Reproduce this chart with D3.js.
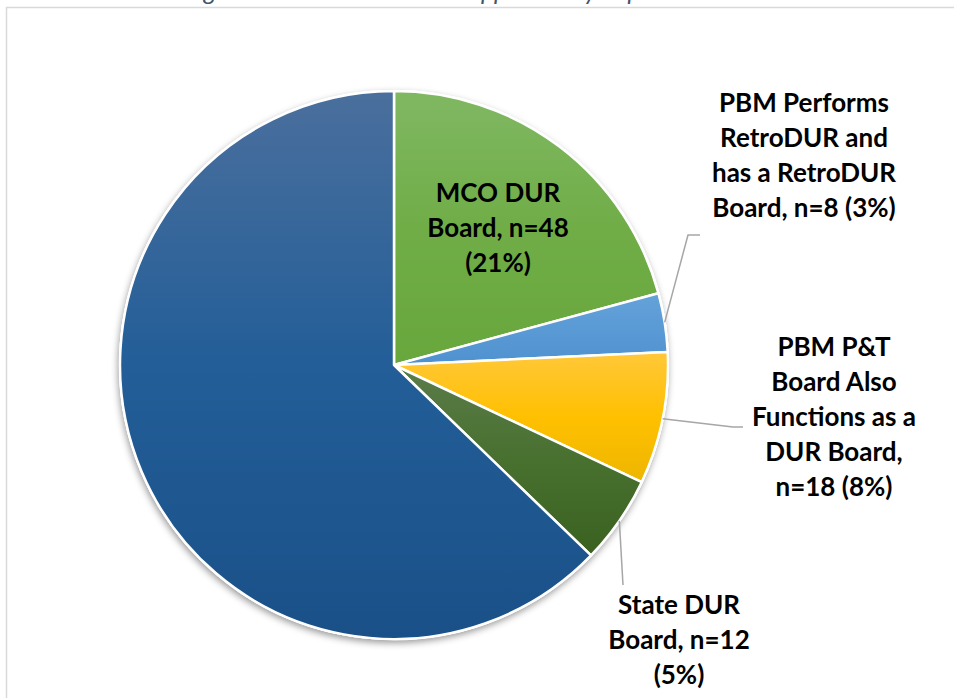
<!DOCTYPE html>
<html>
<head>
<meta charset="utf-8">
<script src="https://cdn.jsdelivr.net/npm/d3@7"></script>
<style>
  body { margin: 0; background: #fff; }
  svg { display: block; }
  .lbl { font-family: Lato, "Open Sans", sans-serif; font-weight: bold; font-size: 26px; fill: #000; }
</style>
</head>
<body>
<script>
var width = 954, height = 698;

// data
var categories = ["MCO DUR Board", "PBM Performs RetroDUR and has a RetroDUR Board",
                  "PBM P&T Board Also Functions as a DUR Board", "State DUR Board", "Other"];
var counts = [48, 8, 18, 12, 145];
var labelLines = [
  ["MCO DUR", "Board, n=48", "(21%)"],
  ["PBM Performs", "RetroDUR and", "has a RetroDUR", "Board, n=8 (3%)"],
  ["PBM P&T", "Board Also", "Functions as a", "DUR Board,", "n=18 (8%)"],
  ["State DUR", "Board, n=12", "(5%)"],
  []
];
var colorsTop = ["#80b863", "#64a2d9", "#ffc83a", "#5b7c4a", "#4a6f9d"];
var colorsMid = ["#70ad47", "#5a9ad5", "#ffc000", "#48702f", "#235e98"];
var colorsBottom = ["#68a73c", "#4f91d0", "#eeb600", "#3a6120", "#1a5088"];

var cx = 394, cy = 365, r = 274;

var svg = d3.select("body").append("svg").attr("width", width).attr("height", height);
var defs = svg.append("defs");

// chart frame, mostly cut off at right/bottom
svg.append("rect").attr("x", 6.5).attr("y", 7.5).attr("width", 1000).attr("height", 1000)
  .attr("fill", "none").attr("stroke", "#d9d9d9").attr("stroke-width", 1.5);

// title cut off at the top edge
svg.append("text").attr("x", 495).attr("y", 0)
  .attr("text-anchor", "middle")
  .style("font-family", "Lato, 'Open Sans', sans-serif").style("font-style", "italic")
  .style("font-size", "25px").style("fill", "#44546a")
  .text("Figure 3: MCO DUR Board Approach by Reported Resources");

var shadow = defs.append("filter").attr("id", "shadow")
  .attr("x", "-10%").attr("y", "-10%").attr("width", "120%").attr("height", "120%");
shadow.append("feDropShadow").attr("dx", -1).attr("dy", 3).attr("stdDeviation", 3.5)
  .attr("flood-color", "#000").attr("flood-opacity", 0.4);

colorsTop.forEach(function(c, i){
  var g = defs.append("linearGradient").attr("id", "grad" + i)
    .attr("x1", 0).attr("y1", 0).attr("x2", 0).attr("y2", 1);
  g.append("stop").attr("offset", "0%").attr("stop-color", c);
  g.append("stop").attr("offset", "50%").attr("stop-color", colorsMid[i]);
  g.append("stop").attr("offset", "100%").attr("stop-color", colorsBottom[i]);
});

var pie = d3.pie().sort(null).value(function(d){ return d; });
var arcs = pie(counts);
var arc = d3.arc().innerRadius(0).outerRadius(r);

var pieG = svg.append("g").attr("transform", "translate(" + cx + "," + cy + ")");

pieG.append("circle").attr("r", r + 1).attr("fill", "#fff").attr("filter", "url(#shadow)");

pieG.selectAll("path.slice").data(arcs).enter()
  .append("path")
  .attr("class", "slice")
  .attr("d", arc)
  .attr("fill", function(d, i){ return "url(#grad" + i + ")"; })
  .attr("stroke", "#fff")
  .attr("stroke-width", 2.5)
  .attr("stroke-linejoin", "round");

// label placement (layout only)
var labelPos = [
  {x: 498, y: 193},
  {x: 804, y: 103},
  {x: 834, y: 347},
  {x: 679, y: 605},
  null
];
var lineH = 35;

// leader lines: start on the slice's outer edge, elbow, end near text
var leaders = [
  null,
  {elbow: [688, 235], end: [700, 235]},
  {elbow: [733, 427], end: [743, 427]},
  {elbow: [623, 585], end: [623, 585]},
  null
];

arcs.forEach(function(d, i){
  if (!leaders[i]) return;
  var mid = (d.startAngle + d.endAngle) / 2;
  var sx = cx + r * Math.sin(mid), sy = cy - r * Math.cos(mid);
  var pts = [[sx, sy], leaders[i].elbow, leaders[i].end];
  svg.append("path")
    .attr("d", d3.line()(pts))
    .attr("fill", "none")
    .attr("stroke", "#a6a6a6")
    .attr("stroke-width", 1.5);
});

labelLines.forEach(function(lines, i){
  if (!labelPos[i]) return;
  var t = svg.append("text").attr("class", "lbl").attr("text-anchor", "middle");
  lines.forEach(function(s, j){
    t.append("tspan").attr("x", labelPos[i].x).attr("y", labelPos[i].y + j * lineH + 9).text(s);
  });
});
</script>
</body>
</html>
